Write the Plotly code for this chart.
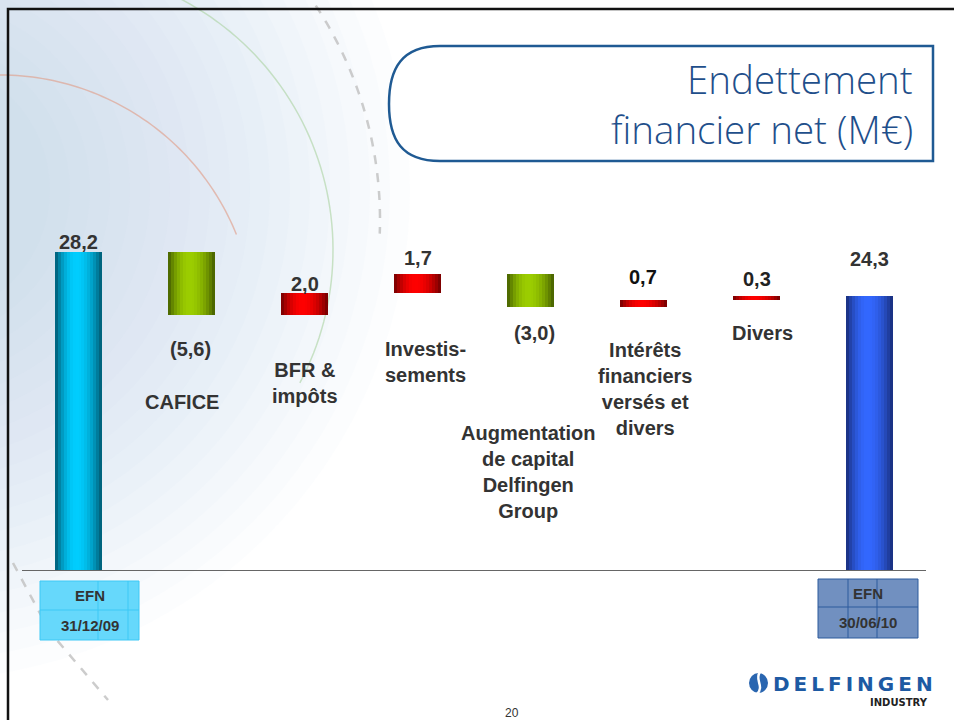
import math
import plotly.graph_objects as go

# ---------------- data ----------------
categories = ["EFN 31/12/09", "CAFICE", "BFR & impôts", "Investissements",
              "Augmentation de capital Delfingen Group",
              "Intérêts financiers versés et divers", "Divers", "EFN 30/06/10"]
measures = ["absolute", "relative", "relative", "relative", "relative",
            "relative", "relative", "total"]
values = [28.2, -5.6, 2.0, 1.7, -3.0, 0.7, 0.3, 24.3]
cat_labels = ["", "CAFICE", "BFR &<br>impôts", "Investis-<br>sements",
              "Augmentation<br>de capital<br>Delfingen<br>Group",
              "Intérêts<br>financiers<br>versés et<br>divers", "Divers", ""]
table_rows = [["EFN", "31/12/09"], ["EFN", "30/06/10"]]
title_lines = ["Endettement", "financier net (M€)"]

# ---------------- layout geometry (pixels) ----------------
W, H = 954, 720
L, R, T, B = 22, 926, 200, 571
SC = 11.31                       # px per M€
YMAX = (B - T) / SC
STEP = (R - L) / len(categories)

def PX(x):
    return (x - L) / (R - L)

def PY(y):
    return (B - y) / (B - T)

def DX(xpx):
    return (xpx - L) / STEP - 0.5

def DY(ypx):
    return (B - ypx) / SC

# ---------------- bar geometry from data ----------------
bases, heights, kinds = [], [], []
run = 0.0
for m, v in zip(measures, values):
    if m == "absolute":
        bases.append(0.0); heights.append(v); kinds.append("start"); run = v
    elif m == "total":
        bases.append(0.0); heights.append(v); kinds.append("end")
    else:
        if v >= 0:
            bases.append(run); heights.append(v); kinds.append("pos")
        else:
            bases.append(run + v); heights.append(-v); kinds.append("neg")
        run += v

def fmt(v):
    s = f"{abs(v):.1f}".replace(".", ",")
    return f"({s})" if v < 0 else s

palette = {
    "start": ((0, 88, 112), (0, 206, 255)),
    "neg": ((68, 92, 0), (156, 206, 0)),
    "pos": ((112, 0, 0), (255, 0, 0)),
    "end": ((24, 44, 118), (51, 104, 255)),
}

fig = go.Figure()
BW = 0.42
N = 16
for i in range(N):
    u = (i + 0.5) / N
    peak = 0.45
    d = (u - peak) / (peak if u < peak else 1 - peak)
    t = max(0.0, 1 - abs(d) ** 2.0)
    cols = []
    for k in kinds:
        dk, br = palette[k]
        c = tuple(int(dk[j] + (br[j] - dk[j]) * t) for j in range(3))
        cols.append(f"rgb{c}")
    fig.add_trace(go.Bar(
        x=list(range(len(categories))), y=heights, base=bases,
        width=BW / N * 1.08, offset=-BW / 2 + i * BW / N,
        marker=dict(color=cols, line=dict(width=0)),
        hoverinfo="skip", showlegend=False))

# ---------------- background decoration ----------------
shapes = []
def circ(cx, cy, r, **kw):
    d = dict(type="circle", xref="paper", yref="paper",
             x0=PX(cx - r), x1=PX(cx + r), y0=PY(cy + r), y1=PY(cy - r),
             layer="below")
    d.update(kw)
    return d

for r_ in range(490, 110, -20):
    shapes.append(circ(-80, 190, r_, fillcolor="rgba(190,215,236,0.045)",
                       line=dict(width=0)))

def arc_path(cx, cy, r, a0, a1, n=60):
    pts = []
    for k in range(n + 1):
        a = math.radians(a0 + (a1 - a0) * k / n)
        pts.append((PX(cx + r * math.cos(a)), PY(cy + r * math.sin(a))))
    return "M " + " L ".join(f"{x:.5f},{y:.5f}" for x, y in pts)

shapes.append(dict(type="path", xref="paper", yref="paper", layer="below",
                   path=arc_path(50, 250, 283, -72, 28),
                   line=dict(color="rgba(170,210,160,0.6)", width=1.5)))
shapes.append(dict(type="path", xref="paper", yref="paper", layer="below",
                   path=arc_path(0, 330, 255, -92, -22),
                   line=dict(color="rgba(225,160,140,0.65)", width=1.5)))
shapes.append(dict(type="path", xref="paper", yref="paper", layer="below",
                   path=arc_path(-10, 220, 390, -36, 2),
                   line=dict(color="rgba(195,195,195,0.85)", width=2.5, dash="dash")))
shapes.append(dict(type="path", xref="paper", yref="paper", layer="below",
                   path=f"M {PX(13)},{PY(563)} L {PX(50)},{PY(632)} L {PX(108)},{PY(700)}",
                   line=dict(color="rgba(195,195,195,0.85)", width=2.5, dash="dash")))

# page border
shapes.append(dict(type="path", xref="paper", yref="paper",
                   path=f"M {PX(8)},{PY(730)} L {PX(8)},{PY(9)} L {PX(960)},{PY(9)}",
                   line=dict(color="#111111", width=2.5)))

# title box
tb = (f"M {PX(440)},{PY(46)} L {PX(933)},{PY(46)} L {PX(933)},{PY(161)} "
      f"L {PX(440)},{PY(161)} C {PX(402)},{PY(161)} {PX(389)},{PY(140)} {PX(389)},{PY(104)} "
      f"C {PX(389)},{PY(68)} {PX(402)},{PY(46)} {PX(440)},{PY(46)} Z")
shapes.append(dict(type="path", xref="paper", yref="paper", path=tb,
                   fillcolor="white", line=dict(color="#1f5a93", width=2.5)))

# baseline
shapes.append(dict(type="line", xref="paper", yref="y", x0=0, x1=1, y0=0, y1=0,
                   line=dict(color="#666666", width=2)))

# tables
tables = [
    dict(x0=40, x1=139, y0=581, y1=640, ym=610, vx=[98, 128],
         fill="#66d8fb", line="#3cc8f5"),
    dict(x0=818, x1=918, y0=579, y1=638, ym=607, vx=[848, 877],
         fill="#7190c0", line="#2d5b9c"),
]
annotations = []
for tbl, rows in zip(tables, table_rows):
    shapes.append(dict(type="rect", xref="paper", yref="paper",
                       x0=PX(tbl["x0"]), x1=PX(tbl["x1"]),
                       y0=PY(tbl["y1"]), y1=PY(tbl["y0"]),
                       fillcolor=tbl["fill"], line=dict(color=tbl["line"], width=1)))
    shapes.append(dict(type="line", xref="paper", yref="paper",
                       x0=PX(tbl["x0"]), x1=PX(tbl["x1"]),
                       y0=PY(tbl["ym"]), y1=PY(tbl["ym"]),
                       line=dict(color=tbl["line"], width=1)))
    for vx in tbl["vx"]:
        shapes.append(dict(type="line", xref="paper", yref="paper",
                           x0=PX(vx), x1=PX(vx), y0=PY(tbl["y0"]), y1=PY(tbl["y1"]),
                           line=dict(color=tbl["line"], width=1)))
    cx = (tbl["x0"] + tbl["x1"]) / 2
    for txt, yc in zip(rows, [(tbl["y0"] + tbl["ym"]) / 2, (tbl["ym"] + tbl["y1"]) / 2]):
        annotations.append(dict(xref="paper", yref="paper", x=PX(cx), y=PY(yc),
                                text=f"<b>{txt}</b>", showarrow=False,
                                xanchor="center", yanchor="middle",
                                font=dict(family="Liberation Sans, Arial", size=15,
                                          color="#333333")))

# value labels (pixel positions of their centres)
val_pos = [(78, 242), (190, 349), (305, 284), (418, 258), (534, 333),
           (643, 277), (757, 279), (869, 259)]
val_col = ["#333333"] * 5 + ["#111111", "#222222", "#333333"]
for v, (xp, yp), c in zip(values, val_pos, val_col):
    annotations.append(dict(xref="x", yref="y", x=DX(xp), y=DY(yp),
                            text=f"<b>{fmt(v)}</b>", showarrow=False,
                            xanchor="center", yanchor="middle",
                            font=dict(family="Liberation Sans, Arial", size=20, color=c)))

# category labels (pixel positions of their centres)
cat_pos = [None, (182, 402), (305, 383), (425, 362), (528, 472), (645, 389),
           (762, 333), None]
for lab, pos in zip(cat_labels, cat_pos):
    if not lab:
        continue
    annotations.append(dict(xref="x", yref="y", x=DX(pos[0]), y=DY(pos[1]),
                            text=f"<b>{lab}</b>", showarrow=False,
                            xanchor="center", yanchor="middle", align="center",
                            font=dict(family="Liberation Sans, Arial", size=20,
                                      color="#333333")))

# title (two lines)
for line, yc in zip(title_lines, [79, 129]):
    annotations.append(dict(xref="paper", yref="paper", x=PX(915), y=PY(yc),
                            text=line, showarrow=False,
                            xanchor="right", yanchor="middle", align="right",
                            font=dict(family="Open Sans", size=38.5, weight=300,
                                      color="#1f4f8b")))

# logo
shapes.append(dict(type="circle", xref="paper", yref="paper",
                   x0=PX(749), x1=PX(768), y0=PY(693), y1=PY(673),
                   fillcolor="#2a66b0", line=dict(width=0)))
shapes.append(dict(type="path", xref="paper", yref="paper",
                   path=(f"M {PX(760)},{PY(672)} C {PX(754)},{PY(680)} {PX(765)},{PY(686)} "
                         f"{PX(757)},{PY(694)}"),
                   line=dict(color="white", width=2.5)))
annotations.append(dict(xref="paper", yref="paper", x=PX(771), y=PY(684),
                        text="<b>D\u2009E\u2009L\u2009F\u2009I\u2009N\u2009G\u2009E\u2009N</b>",
                        showarrow=False, xanchor="left", yanchor="middle",
                        font=dict(family="DejaVu Sans", size=20, color="#1d5aa3")))
annotations.append(dict(xref="paper", yref="paper", x=PX(930), y=PY(702),
                        text="<b>INDUSTRY</b>", showarrow=False,
                        xanchor="right", yanchor="middle",
                        font=dict(family="DejaVu Sans", size=10, color="#222222")))

# page number
annotations.append(dict(xref="paper", yref="paper", x=PX(512), y=PY(713),
                        text="20", showarrow=False, xanchor="center", yanchor="middle",
                        font=dict(family="Liberation Sans, Arial", size=12, color="#333333")))

fig.update_layout(
    width=W, height=H, autosize=False,
    margin=dict(l=L, r=W - R, t=T, b=H - B, pad=0),
    paper_bgcolor="white", plot_bgcolor="rgba(0,0,0,0)",
    barmode="overlay", bargap=0,
    xaxis=dict(range=[-0.5, len(categories) - 0.5], visible=False, fixedrange=True),
    yaxis=dict(range=[0, YMAX], visible=False, fixedrange=True),
    shapes=shapes, annotations=annotations,
    showlegend=False,
)

fig.write_html("out.html", config={"displayModeBar": False},
               post_script="document.body.style.margin='0';document.body.style.overflow='hidden';")
